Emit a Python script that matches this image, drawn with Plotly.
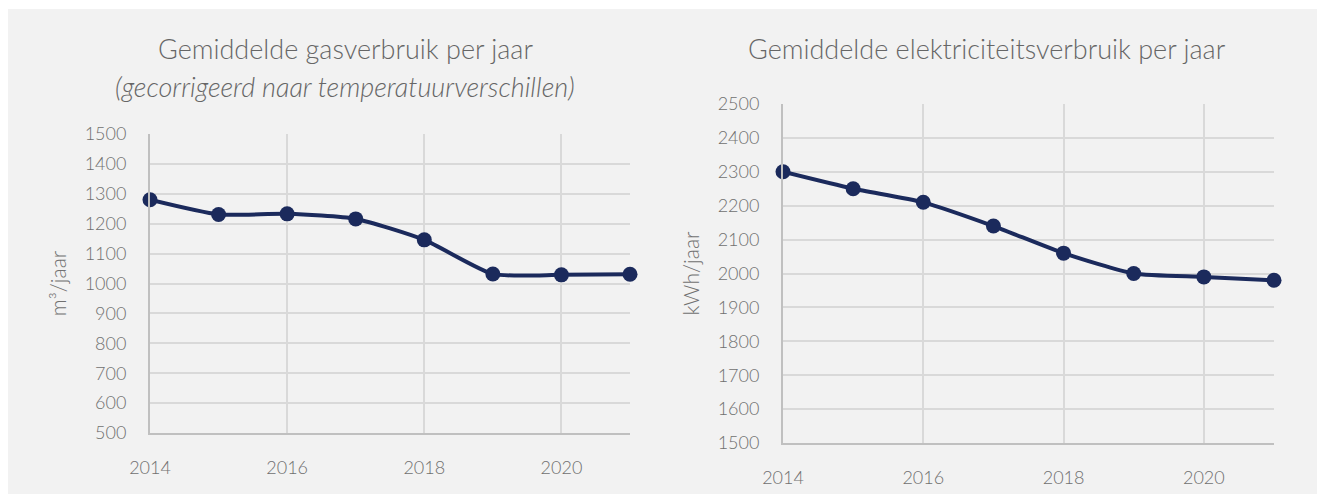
import plotly.graph_objects as go

# the page puts the figure 8px in from the top-left corner
OFF = 8
W, H = 1325 - OFF, 495 - OFF

jaren = [2014, 2015, 2016, 2017, 2018, 2019, 2020, 2021]
gas_m3 = [1280, 1231, 1233, 1216, 1146, 1032, 1029, 1031]
elek_kwh = [2300, 2250, 2210, 2140, 2060, 2000, 1990, 1980]

titel_gas = "Gemiddelde gasverbruik per jaar"
subtitel_gas = "(gecorrigeerd naar temperatuurverschillen)"
titel_elek = "Gemiddelde elektriciteitsverbruik per jaar"
label_gas = "m³/jaar"
label_elek = "kWh/jaar"

NAVY = "#1b2a5c"
GRID = "#d9d9d9"
TXT = "#707070"
TITEL = "#666666"
FONT = "Lato"


def px_x(x):
    return max(0, (x - OFF) / W)


def px_y(y):
    return min(1, 1 - (y - OFF) / H)


fig = go.Figure()

for y, xa, ya in [(gas_m3, "x", "y"), (elek_kwh, "x2", "y2")]:
    fig.add_trace(go.Scatter(
        x=jaren, y=y, xaxis=xa, yaxis=ya,
        mode="lines+markers",
        line=dict(color=NAVY, width=4, shape="spline", smoothing=0.6),
        marker=dict(color=NAVY, size=15),
        cliponaxis=False, showlegend=False,
    ))

tick_font = dict(family=FONT, size=18, color=TXT, weight=300)
as_titel_font = dict(family=FONT, size=21, color=TXT, weight=300)

as_x = dict(
    range=[2014, 2021], tickvals=[2014, 2016, 2018, 2020],
    showgrid=True, gridcolor=GRID, gridwidth=2,
    showline=True, linecolor="#c0c0c0", linewidth=2,
    ticks="outside", ticklen=17, tickcolor="rgba(0,0,0,0)",
    tickfont=tick_font,
    zeroline=False, fixedrange=True, automargin=False,
)
as_y = dict(
    dtick=100,
    showgrid=True, gridcolor=GRID, gridwidth=2,
    showline=True, linecolor="#c0c0c0", linewidth=2,
    ticks="outside", ticklen=18, tickcolor="rgba(0,0,0,0)",
    tickfont=tick_font,
    zeroline=False, fixedrange=True, automargin=False,
)

titel_font = dict(family=FONT, size=27, color=TITEL, weight=300)

fig.update_layout(
    width=W, height=H,
    margin=dict(l=0, r=0, t=0, b=0, autoexpand=False),
    paper_bgcolor="white", plot_bgcolor="#f2f2f2",
    xaxis=dict(as_x, domain=[px_x(150), px_x(630)], anchor="y"),
    yaxis=dict(as_y, range=[500, 1500], domain=[px_y(433), px_y(134)], anchor="x",
               title=dict(text=label_gas, font=as_titel_font, standoff=12)),
    xaxis2=dict(as_x, domain=[px_x(783), px_x(1274)], anchor="y2"),
    yaxis2=dict(as_y, range=[1500, 2500], domain=[px_y(443), px_y(104)], anchor="x2",
                title=dict(text=label_elek, font=as_titel_font, standoff=12)),
    shapes=[dict(type="rect", xref="paper", yref="paper", layer="below",
                 x0=px_x(6), x1=1, y0=px_y(494), y1=px_y(9),
                 fillcolor="#f2f2f2", line=dict(width=0))],
    annotations=[
        dict(text=titel_gas, x=px_x(345), y=px_y(48), xref="paper", yref="paper",
             xanchor="center", yanchor="middle", showarrow=False, font=titel_font),
        dict(text="<i>" + subtitel_gas + "</i>", x=px_x(345), y=px_y(86), xref="paper", yref="paper",
             xanchor="center", yanchor="middle", showarrow=False, font=titel_font),
        dict(text=titel_elek, x=px_x(987), y=px_y(48), xref="paper", yref="paper",
             xanchor="center", yanchor="middle", showarrow=False, font=titel_font),
    ],
)

fig.write_html("out.html")
